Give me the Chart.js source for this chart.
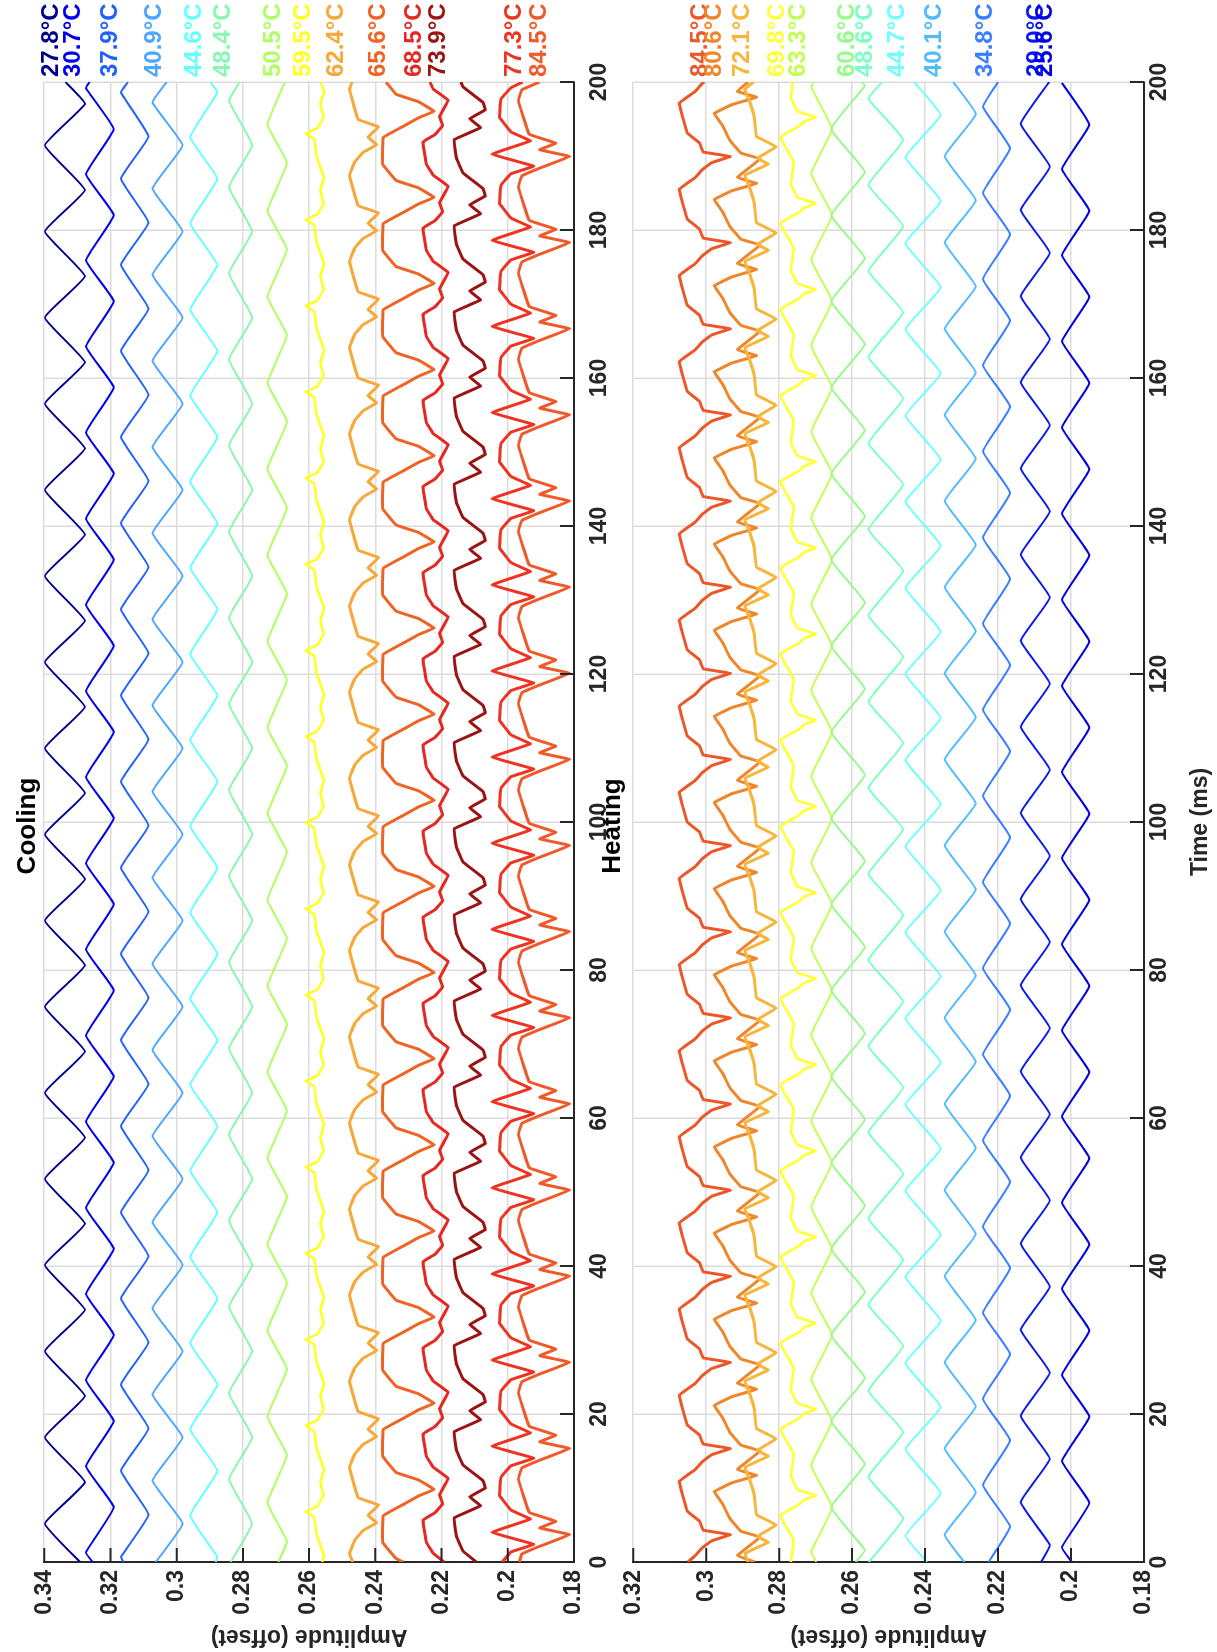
<!DOCTYPE html>
<html>
<head>
<meta charset="utf-8">
<script src="https://cdn.jsdelivr.net/npm/chart.js@4.4.1/dist/chart.umd.min.js"></script>
<style>
  html, body { margin: 0; padding: 0; background: #fff; overflow: hidden; }
  #page { position: absolute; left: 0; top: 0; width: 1652px; height: 1217px;
          transform-origin: 0 0; transform: translate(0, 1652px) rotate(-90deg); }
  #cooling { position: absolute; left: 0; top: 0; }
  #heating { position: absolute; left: 0; top: 560px; }
</style>
</head>
<body>
<div id="page">
  <canvas id="cooling" width="1652" height="640"></canvas>
  <canvas id="heating" width="1652" height="657"></canvas>
</div>
<script>
// axes
const timeTicks = [0, 20, 40, 60, 80, 100, 120, 140, 160, 180, 200];
const timeLabels = ['0', '20', '40', '60', '80', '100', '120', '140', '160', '180', '200'];
const coolTicks = [0.18, 0.2, 0.22, 0.24, 0.26, 0.28, 0.3, 0.32, 0.34];
const coolTickLabels = ['0.18', '0.2', '0.22', '0.24', '0.26', '0.28', '0.3', '0.32', '0.34'];
const heatTicks = [0.18, 0.2, 0.22, 0.24, 0.26, 0.28, 0.3, 0.32];
const heatTickLabels = ['0.18', '0.2', '0.22', '0.24', '0.26', '0.28', '0.3', '0.32'];

// cooling traces, [time ms, amplitude]
const cool278 = [[0,.3292],[5.2,.3398],[10.8,.3277],[16.84,.3398],[22.44,.3277],[28.48,.3398],[34.08,.3277],[40.12,.3398],[45.72,.3277],[51.76,.3398],[57.36,.3277],[63.4,.3398],[69,.3277],[75.04,.3398],[80.64,.3277],[86.68,.3398],[92.28,.3277],[98.32,.3398],[103.92,.3277],[109.96,.3398],[115.56,.3277],[121.6,.3398],[127.2,.3277],[133.24,.3398],[138.84,.3277],[144.88,.3398],[150.48,.3277],[156.52,.3398],[162.12,.3277],[168.16,.3398],[173.76,.3277],[179.8,.3398],[185.4,.3277],[191.44,.3398],[197.04,.3277],[200,.3336]];
const cool307 = [[0,.3254],[1.3,.3274],[7.4,.3190],[12.94,.3274],[19.04,.3190],[24.58,.3274],[30.68,.3190],[36.22,.3274],[42.32,.3190],[47.86,.3274],[53.96,.3190],[59.5,.3274],[65.6,.3190],[71.14,.3274],[77.24,.3190],[82.78,.3274],[88.88,.3190],[94.42,.3274],[100.52,.3190],[106.06,.3274],[112.16,.3190],[117.7,.3274],[123.8,.3190],[129.34,.3274],[135.44,.3190],[140.98,.3274],[147.08,.3190],[152.62,.3274],[158.72,.3190],[164.26,.3274],[170.36,.3190],[175.9,.3274],[182,.3190],[187.54,.3274],[193.64,.3190],[199.18,.3274],[200,.3263]];
const cool379 = [[0,.3160],[0.7,.3168],[6.4,.3085],[12.34,.3168],[18.04,.3085],[23.98,.3168],[29.68,.3085],[35.62,.3168],[41.32,.3085],[47.26,.3168],[52.96,.3085],[58.9,.3168],[64.6,.3085],[70.54,.3168],[76.24,.3085],[82.18,.3168],[87.88,.3085],[93.82,.3168],[99.52,.3085],[105.46,.3168],[111.16,.3085],[117.1,.3168],[122.8,.3085],[128.74,.3168],[134.44,.3085],[140.38,.3168],[146.08,.3085],[152.02,.3168],[157.72,.3085],[163.66,.3168],[169.36,.3085],[175.3,.3168],[181,.3085],[186.94,.3168],[192.64,.3085],[198.58,.3168],[200,.3147]];
const cool409 = [[0,.3063],[5.2,.2982],[11,.3073],[16.84,.2982],[22.64,.3073],[28.48,.2982],[34.28,.3073],[40.12,.2982],[45.92,.3073],[51.76,.2982],[57.56,.3073],[63.4,.2982],[69.2,.3073],[75.04,.2982],[80.84,.3073],[86.68,.2982],[92.48,.3073],[98.32,.2982],[104.12,.3073],[109.96,.2982],[115.76,.3073],[121.6,.2982],[127.4,.3073],[133.24,.2982],[139.04,.3073],[144.88,.2982],[150.68,.3073],[156.52,.2982],[162.32,.3073],[168.16,.2982],[173.96,.3073],[179.8,.2982],[185.6,.3073],[191.44,.2982],[197.24,.3073],[200,.3030]];
const cool446 = [[0,.2882],[0.7,.2877],[6.3,.2959],[12.34,.2877],[17.94,.2959],[23.98,.2877],[29.58,.2959],[35.62,.2877],[41.22,.2959],[47.26,.2877],[52.86,.2959],[58.9,.2877],[64.5,.2959],[70.54,.2877],[76.14,.2959],[82.18,.2877],[87.78,.2959],[93.82,.2877],[99.42,.2959],[105.46,.2877],[111.06,.2959],[117.1,.2877],[122.7,.2959],[128.74,.2877],[134.34,.2959],[140.38,.2877],[145.98,.2959],[152.02,.2877],[157.62,.2959],[163.66,.2877],[169.26,.2959],[175.3,.2877],[180.9,.2959],[186.94,.2877],[192.54,.2959],[198.58,.2877],[200,.2898]];
const cool484 = [[0,.2837],[5.2,.2772],[11.2,.2842],[16.84,.2772],[22.84,.2842],[28.48,.2772],[34.48,.2842],[40.12,.2772],[46.12,.2842],[51.76,.2772],[57.76,.2842],[63.4,.2772],[69.4,.2842],[75.04,.2772],[81.04,.2842],[86.68,.2772],[92.68,.2842],[98.32,.2772],[104.32,.2842],[109.96,.2772],[115.96,.2842],[121.6,.2772],[127.6,.2842],[133.24,.2772],[139.24,.2842],[144.88,.2772],[150.88,.2842],[156.52,.2772],[162.52,.2842],[168.16,.2772],[174.16,.2842],[179.8,.2772],[185.8,.2842],[191.44,.2772],[197.44,.2842],[200,.2810]];
const cool505 = [[0,.2693],[2.8,.2667],[8,.2726],[14.44,.2667],[19.64,.2726],[26.08,.2667],[31.28,.2726],[37.72,.2667],[42.92,.2726],[49.36,.2667],[54.56,.2726],[61,.2667],[66.2,.2726],[72.64,.2667],[77.84,.2726],[84.28,.2667],[89.48,.2726],[95.92,.2667],[101.12,.2726],[107.56,.2667],[112.76,.2726],[119.2,.2667],[124.4,.2726],[130.84,.2667],[136.04,.2726],[142.48,.2667],[147.68,.2726],[154.12,.2667],[159.32,.2726],[165.76,.2667],[170.96,.2726],[177.4,.2667],[182.6,.2726],[189.04,.2667],[194.24,.2726],[200,.2673]];
const cool595 = [[0,.2561],[0.86,.2555],[3.66,.2577],[6.06,.2585],
  [6.8,.2610],[7.5,.2576],[9,.2556],[10.8,.2566],[12.5,.2555],[15.3,.2577],[17.7,.2585],
  [18.44,.2610],[19.14,.2576],[20.64,.2556],[22.44,.2566],[24.14,.2555],[26.94,.2577],[29.34,.2585],
  [30.08,.2610],[30.78,.2576],[32.28,.2556],[34.08,.2566],[35.78,.2555],[38.58,.2577],[40.98,.2585],
  [41.72,.2610],[42.42,.2576],[43.92,.2556],[45.72,.2566],[47.42,.2555],[50.22,.2577],[52.62,.2585],
  [53.36,.2610],[54.06,.2576],[55.56,.2556],[57.36,.2566],[59.06,.2555],[61.86,.2577],[64.26,.2585],
  [65,.2610],[65.7,.2576],[67.2,.2556],[69,.2566],[70.7,.2555],[73.5,.2577],[75.9,.2585],
  [76.64,.2610],[77.34,.2576],[78.84,.2556],[80.64,.2566],[82.34,.2555],[85.14,.2577],[87.54,.2585],
  [88.28,.2610],[88.98,.2576],[90.48,.2556],[92.28,.2566],[93.98,.2555],[96.78,.2577],[99.18,.2585],
  [99.92,.2610],[100.62,.2576],[102.12,.2556],[103.92,.2566],[105.62,.2555],[108.42,.2577],[110.82,.2585],
  [111.56,.2610],[112.26,.2576],[113.76,.2556],[115.56,.2566],[117.26,.2555],[120.06,.2577],[122.46,.2585],
  [123.2,.2610],[123.9,.2576],[125.4,.2556],[127.2,.2566],[128.9,.2555],[131.7,.2577],[134.1,.2585],
  [134.84,.2610],[135.54,.2576],[137.04,.2556],[138.84,.2566],[140.54,.2555],[143.34,.2577],[145.74,.2585],
  [146.48,.2610],[147.18,.2576],[148.68,.2556],[150.48,.2566],[152.18,.2555],[154.98,.2577],[157.38,.2585],
  [158.12,.2610],[158.82,.2576],[160.32,.2556],[162.12,.2566],[163.82,.2555],[166.62,.2577],[169.02,.2585],
  [169.76,.2610],[170.46,.2576],[171.96,.2556],[173.76,.2566],[175.46,.2555],[178.26,.2577],[180.66,.2585],
  [181.4,.2610],[182.1,.2576],[183.6,.2556],[185.4,.2566],[187.1,.2555],[189.9,.2577],[192.3,.2585],
  [193.04,.2610],[193.74,.2576],[195.24,.2556],[197.04,.2566],[198.74,.2555],[200,.2565]];
const cool624 = [[0,.2468],[1.16,.2478],[2.96,.2462],[4.26,.2437],
  [5.3,.2396],[6.3,.2422],[7.7,.2390],[8.7,.2452],[12.8,.2478],[14.6,.2462],[15.9,.2437],
  [16.94,.2396],[17.94,.2422],[19.34,.2390],[20.34,.2452],[24.44,.2478],[26.24,.2462],[27.54,.2437],
  [28.58,.2396],[29.58,.2422],[30.98,.2390],[31.98,.2452],[36.08,.2478],[37.88,.2462],[39.18,.2437],
  [40.22,.2396],[41.22,.2422],[42.62,.2390],[43.62,.2452],[47.72,.2478],[49.52,.2462],[50.82,.2437],
  [51.86,.2396],[52.86,.2422],[54.26,.2390],[55.26,.2452],[59.36,.2478],[61.16,.2462],[62.46,.2437],
  [63.5,.2396],[64.5,.2422],[65.9,.2390],[66.9,.2452],[71,.2478],[72.8,.2462],[74.1,.2437],
  [75.14,.2396],[76.14,.2422],[77.54,.2390],[78.54,.2452],[82.64,.2478],[84.44,.2462],[85.74,.2437],
  [86.78,.2396],[87.78,.2422],[89.18,.2390],[90.18,.2452],[94.28,.2478],[96.08,.2462],[97.38,.2437],
  [98.42,.2396],[99.42,.2422],[100.82,.2390],[101.82,.2452],[105.92,.2478],[107.72,.2462],[109.02,.2437],
  [110.06,.2396],[111.06,.2422],[112.46,.2390],[113.46,.2452],[117.56,.2478],[119.36,.2462],[120.66,.2437],
  [121.7,.2396],[122.7,.2422],[124.1,.2390],[125.1,.2452],[129.2,.2478],[131,.2462],[132.3,.2437],
  [133.34,.2396],[134.34,.2422],[135.74,.2390],[136.74,.2452],[140.84,.2478],[142.64,.2462],[143.94,.2437],
  [144.98,.2396],[145.98,.2422],[147.38,.2390],[148.38,.2452],[152.48,.2478],[154.28,.2462],[155.58,.2437],
  [156.62,.2396],[157.62,.2422],[159.02,.2390],[160.02,.2452],[164.12,.2478],[165.92,.2462],[167.22,.2437],
  [168.26,.2396],[169.26,.2422],[170.66,.2390],[171.66,.2452],[175.76,.2478],[177.56,.2462],[178.86,.2437],
  [179.9,.2396],[180.9,.2422],[182.3,.2390],[183.3,.2452],[187.4,.2478],[189.2,.2462],[190.5,.2437],
  [191.54,.2396],[192.54,.2422],[193.94,.2390],[194.94,.2452],[199.04,.2478],[200,.2470]];
const cool656 = [[0,.2316],[0.46,.2337],[2.66,.2378],[6.26,.2376],[7.96,.2308],[8.96,.2268],
  [9.8,.2222],[11.1,.2270],[12.1,.2337],[14.3,.2378],[17.9,.2376],[19.6,.2308],[20.6,.2268],
  [21.44,.2222],[22.74,.2270],[23.74,.2337],[25.94,.2378],[29.54,.2376],[31.24,.2308],[32.24,.2268],
  [33.08,.2222],[34.38,.2270],[35.38,.2337],[37.58,.2378],[41.18,.2376],[42.88,.2308],[43.88,.2268],
  [44.72,.2222],[46.02,.2270],[47.02,.2337],[49.22,.2378],[52.82,.2376],[54.52,.2308],[55.52,.2268],
  [56.36,.2222],[57.66,.2270],[58.66,.2337],[60.86,.2378],[64.46,.2376],[66.16,.2308],[67.16,.2268],
  [68,.2222],[69.3,.2270],[70.3,.2337],[72.5,.2378],[76.1,.2376],[77.8,.2308],[78.8,.2268],
  [79.64,.2222],[80.94,.2270],[81.94,.2337],[84.14,.2378],[87.74,.2376],[89.44,.2308],[90.44,.2268],
  [91.28,.2222],[92.58,.2270],[93.58,.2337],[95.78,.2378],[99.38,.2376],[101.08,.2308],[102.08,.2268],
  [102.92,.2222],[104.22,.2270],[105.22,.2337],[107.42,.2378],[111.02,.2376],[112.72,.2308],[113.72,.2268],
  [114.56,.2222],[115.86,.2270],[116.86,.2337],[119.06,.2378],[122.66,.2376],[124.36,.2308],[125.36,.2268],
  [126.2,.2222],[127.5,.2270],[128.5,.2337],[130.7,.2378],[134.3,.2376],[136,.2308],[137,.2268],
  [137.84,.2222],[139.14,.2270],[140.14,.2337],[142.34,.2378],[145.94,.2376],[147.64,.2308],[148.64,.2268],
  [149.48,.2222],[150.78,.2270],[151.78,.2337],[153.98,.2378],[157.58,.2376],[159.28,.2308],[160.28,.2268],
  [161.12,.2222],[162.42,.2270],[163.42,.2337],[165.62,.2378],[169.22,.2376],[170.92,.2308],[171.92,.2268],
  [172.76,.2222],[174.06,.2270],[175.06,.2337],[177.26,.2378],[180.86,.2376],[182.56,.2308],[183.56,.2268],
  [184.4,.2222],[185.7,.2270],[186.7,.2337],[188.9,.2378],[192.5,.2376],[194.2,.2308],[195.2,.2268],
  [196.04,.2222],[197.34,.2270],[198.34,.2337],[200,.2368]];
const cool685 = [[0,.2192],[1.16,.2225],[2.66,.2246],[5.66,.2256],[6.66,.2220],[7.86,.2197],[9.06,.2206],
  [11.3,.2180],[12.8,.2225],[14.3,.2246],[17.3,.2256],[18.3,.2220],[19.5,.2197],[20.7,.2206],
  [22.94,.2180],[24.44,.2225],[25.94,.2246],[28.94,.2256],[29.94,.2220],[31.14,.2197],[32.34,.2206],
  [34.58,.2180],[36.08,.2225],[37.58,.2246],[40.58,.2256],[41.58,.2220],[42.78,.2197],[43.98,.2206],
  [46.22,.2180],[47.72,.2225],[49.22,.2246],[52.22,.2256],[53.22,.2220],[54.42,.2197],[55.62,.2206],
  [57.86,.2180],[59.36,.2225],[60.86,.2246],[63.86,.2256],[64.86,.2220],[66.06,.2197],[67.26,.2206],
  [69.5,.2180],[71,.2225],[72.5,.2246],[75.5,.2256],[76.5,.2220],[77.7,.2197],[78.9,.2206],
  [81.14,.2180],[82.64,.2225],[84.14,.2246],[87.14,.2256],[88.14,.2220],[89.34,.2197],[90.54,.2206],
  [92.78,.2180],[94.28,.2225],[95.78,.2246],[98.78,.2256],[99.78,.2220],[100.98,.2197],[102.18,.2206],
  [104.42,.2180],[105.92,.2225],[107.42,.2246],[110.42,.2256],[111.42,.2220],[112.62,.2197],[113.82,.2206],
  [116.06,.2180],[117.56,.2225],[119.06,.2246],[122.06,.2256],[123.06,.2220],[124.26,.2197],[125.46,.2206],
  [127.7,.2180],[129.2,.2225],[130.7,.2246],[133.7,.2256],[134.7,.2220],[135.9,.2197],[137.1,.2206],
  [139.34,.2180],[140.84,.2225],[142.34,.2246],[145.34,.2256],[146.34,.2220],[147.54,.2197],[148.74,.2206],
  [150.98,.2180],[152.48,.2225],[153.98,.2246],[156.98,.2256],[157.98,.2220],[159.18,.2197],[160.38,.2206],
  [162.62,.2180],[164.12,.2225],[165.62,.2246],[168.62,.2256],[169.62,.2220],[170.82,.2197],[172.02,.2206],
  [174.26,.2180],[175.76,.2225],[177.26,.2246],[180.26,.2256],[181.26,.2220],[182.46,.2197],[183.66,.2206],
  [185.9,.2180],[187.4,.2225],[188.9,.2246],[191.9,.2256],[192.9,.2220],[194.1,.2197],[195.3,.2206],
  [197.54,.2180],[199.04,.2225],[200,.2235]];
const cool739 = [[0,.2095],[1.46,.2135],[3.46,.2155],[5.96,.2162],
  [7.6,.2082],[8.8,.2115],[10,.2068],[11,.2075],[13.1,.2135],[15.1,.2155],[17.6,.2162],
  [19.24,.2082],[20.44,.2115],[21.64,.2068],[22.64,.2075],[24.74,.2135],[26.74,.2155],[29.24,.2162],
  [30.88,.2082],[32.08,.2115],[33.28,.2068],[34.28,.2075],[36.38,.2135],[38.38,.2155],[40.88,.2162],
  [42.52,.2082],[43.72,.2115],[44.92,.2068],[45.92,.2075],[48.02,.2135],[50.02,.2155],[52.52,.2162],
  [54.16,.2082],[55.36,.2115],[56.56,.2068],[57.56,.2075],[59.66,.2135],[61.66,.2155],[64.16,.2162],
  [65.8,.2082],[67,.2115],[68.2,.2068],[69.2,.2075],[71.3,.2135],[73.3,.2155],[75.8,.2162],
  [77.44,.2082],[78.64,.2115],[79.84,.2068],[80.84,.2075],[82.94,.2135],[84.94,.2155],[87.44,.2162],
  [89.08,.2082],[90.28,.2115],[91.48,.2068],[92.48,.2075],[94.58,.2135],[96.58,.2155],[99.08,.2162],
  [100.72,.2082],[101.92,.2115],[103.12,.2068],[104.12,.2075],[106.22,.2135],[108.22,.2155],[110.72,.2162],
  [112.36,.2082],[113.56,.2115],[114.76,.2068],[115.76,.2075],[117.86,.2135],[119.86,.2155],[122.36,.2162],
  [124,.2082],[125.2,.2115],[126.4,.2068],[127.4,.2075],[129.5,.2135],[131.5,.2155],[134,.2162],
  [135.64,.2082],[136.84,.2115],[138.04,.2068],[139.04,.2075],[141.14,.2135],[143.14,.2155],[145.64,.2162],
  [147.28,.2082],[148.48,.2115],[149.68,.2068],[150.68,.2075],[152.78,.2135],[154.78,.2155],[157.28,.2162],
  [158.92,.2082],[160.12,.2115],[161.32,.2068],[162.32,.2075],[164.42,.2135],[166.42,.2155],[168.92,.2162],
  [170.56,.2082],[171.76,.2115],[172.96,.2068],[173.96,.2075],[176.06,.2135],[178.06,.2155],[180.56,.2162],
  [182.2,.2082],[183.4,.2115],[184.6,.2068],[185.6,.2075],[187.7,.2135],[189.7,.2155],[192.2,.2162],
  [193.84,.2082],[195.04,.2115],[196.24,.2068],[197.24,.2075],[199.34,.2135],[200,.2142]];
const cool773 = [[0,.2017],[1.36,.1990],
  [2.4,.1922],[4,.2048],[5.8,.1932],[7,.1990],[9,.2025],[11.5,.2020],[13,.1990],
  [14.04,.1922],[15.64,.2048],[17.44,.1932],[18.64,.1990],[20.64,.2025],[23.14,.2020],[24.64,.1990],
  [25.68,.1922],[27.28,.2048],[29.08,.1932],[30.28,.1990],[32.28,.2025],[34.78,.2020],[36.28,.1990],
  [37.32,.1922],[38.92,.2048],[40.72,.1932],[41.92,.1990],[43.92,.2025],[46.42,.2020],[47.92,.1990],
  [48.96,.1922],[50.56,.2048],[52.36,.1932],[53.56,.1990],[55.56,.2025],[58.06,.2020],[59.56,.1990],
  [60.6,.1922],[62.2,.2048],[64,.1932],[65.2,.1990],[67.2,.2025],[69.7,.2020],[71.2,.1990],
  [72.24,.1922],[73.84,.2048],[75.64,.1932],[76.84,.1990],[78.84,.2025],[81.34,.2020],[82.84,.1990],
  [83.88,.1922],[85.48,.2048],[87.28,.1932],[88.48,.1990],[90.48,.2025],[92.98,.2020],[94.48,.1990],
  [95.52,.1922],[97.12,.2048],[98.92,.1932],[100.12,.1990],[102.12,.2025],[104.62,.2020],[106.12,.1990],
  [107.16,.1922],[108.76,.2048],[110.56,.1932],[111.76,.1990],[113.76,.2025],[116.26,.2020],[117.76,.1990],
  [118.8,.1922],[120.4,.2048],[122.2,.1932],[123.4,.1990],[125.4,.2025],[127.9,.2020],[129.4,.1990],
  [130.44,.1922],[132.04,.2048],[133.84,.1932],[135.04,.1990],[137.04,.2025],[139.54,.2020],[141.04,.1990],
  [142.08,.1922],[143.68,.2048],[145.48,.1932],[146.68,.1990],[148.68,.2025],[151.18,.2020],[152.68,.1990],
  [153.72,.1922],[155.32,.2048],[157.12,.1932],[158.32,.1990],[160.32,.2025],[162.82,.2020],[164.32,.1990],
  [165.36,.1922],[166.96,.2048],[168.76,.1932],[169.96,.1990],[171.96,.2025],[174.46,.2020],[175.96,.1990],
  [177,.1922],[178.6,.2048],[180.4,.1932],[181.6,.1990],[183.6,.2025],[186.1,.2020],[187.6,.1990],
  [188.64,.1922],[190.24,.2048],[192.04,.1932],[193.24,.1990],[195.24,.2025],[197.74,.2020],[199.24,.1990],[200,.1955]];
const cool845 = [[0,.1965],[1.06,.1958],
  [2.1,.1905],[3.7,.1813],[4.6,.1903],[5.5,.1855],[6.7,.1935],[11.2,.1968],[12.7,.1958],
  [13.74,.1905],[15.34,.1813],[16.24,.1903],[17.14,.1855],[18.34,.1935],[22.84,.1968],[24.34,.1958],
  [25.38,.1905],[26.98,.1813],[27.88,.1903],[28.78,.1855],[29.98,.1935],[34.48,.1968],[35.98,.1958],
  [37.02,.1905],[38.62,.1813],[39.52,.1903],[40.42,.1855],[41.62,.1935],[46.12,.1968],[47.62,.1958],
  [48.66,.1905],[50.26,.1813],[51.16,.1903],[52.06,.1855],[53.26,.1935],[57.76,.1968],[59.26,.1958],
  [60.3,.1905],[61.9,.1813],[62.8,.1903],[63.7,.1855],[64.9,.1935],[69.4,.1968],[70.9,.1958],
  [71.94,.1905],[73.54,.1813],[74.44,.1903],[75.34,.1855],[76.54,.1935],[81.04,.1968],[82.54,.1958],
  [83.58,.1905],[85.18,.1813],[86.08,.1903],[86.98,.1855],[88.18,.1935],[92.68,.1968],[94.18,.1958],
  [95.22,.1905],[96.82,.1813],[97.72,.1903],[98.62,.1855],[99.82,.1935],[104.32,.1968],[105.82,.1958],
  [106.86,.1905],[108.46,.1813],[109.36,.1903],[110.26,.1855],[111.46,.1935],[115.96,.1968],[117.46,.1958],
  [118.5,.1905],[120.1,.1813],[121,.1903],[121.9,.1855],[123.1,.1935],[127.6,.1968],[129.1,.1958],
  [130.14,.1905],[131.74,.1813],[132.64,.1903],[133.54,.1855],[134.74,.1935],[139.24,.1968],[140.74,.1958],
  [141.78,.1905],[143.38,.1813],[144.28,.1903],[145.18,.1855],[146.38,.1935],[150.88,.1968],[152.38,.1958],
  [153.42,.1905],[155.02,.1813],[155.92,.1903],[156.82,.1855],[158.02,.1935],[162.52,.1968],[164.02,.1958],
  [165.06,.1905],[166.66,.1813],[167.56,.1903],[168.46,.1855],[169.66,.1935],[174.16,.1968],[175.66,.1958],
  [176.7,.1905],[178.3,.1813],[179.2,.1903],[180.1,.1855],[181.3,.1935],[185.8,.1968],[187.3,.1958],
  [188.34,.1905],[189.94,.1813],[190.84,.1903],[191.74,.1855],[192.94,.1935],[197.44,.1968],[198.94,.1958],[200,.1904]];

// heating traces, [time ms, amplitude]
const heat845 = [[0,.3050],[0.86,.3030],[1.86,.3012],[2.86,.2985],
  [3.7,.2934],[4.3,.3008],[5.5,.3018],[6.9,.3052],[10.9,.3074],[12.5,.3030],[13.5,.3012],[14.5,.2985],
  [15.34,.2934],[15.94,.3008],[17.14,.3018],[18.54,.3052],[22.54,.3074],[24.14,.3030],[25.14,.3012],[26.14,.2985],
  [26.98,.2934],[27.58,.3008],[28.78,.3018],[30.18,.3052],[34.18,.3074],[35.78,.3030],[36.78,.3012],[37.78,.2985],
  [38.62,.2934],[39.22,.3008],[40.42,.3018],[41.82,.3052],[45.82,.3074],[47.42,.3030],[48.42,.3012],[49.42,.2985],
  [50.26,.2934],[50.86,.3008],[52.06,.3018],[53.46,.3052],[57.46,.3074],[59.06,.3030],[60.06,.3012],[61.06,.2985],
  [61.9,.2934],[62.5,.3008],[63.7,.3018],[65.1,.3052],[69.1,.3074],[70.7,.3030],[71.7,.3012],[72.7,.2985],
  [73.54,.2934],[74.14,.3008],[75.34,.3018],[76.74,.3052],[80.74,.3074],[82.34,.3030],[83.34,.3012],[84.34,.2985],
  [85.18,.2934],[85.78,.3008],[86.98,.3018],[88.38,.3052],[92.38,.3074],[93.98,.3030],[94.98,.3012],[95.98,.2985],
  [96.82,.2934],[97.42,.3008],[98.62,.3018],[100.02,.3052],[104.02,.3074],[105.62,.3030],[106.62,.3012],[107.62,.2985],
  [108.46,.2934],[109.06,.3008],[110.26,.3018],[111.66,.3052],[115.66,.3074],[117.26,.3030],[118.26,.3012],[119.26,.2985],
  [120.1,.2934],[120.7,.3008],[121.9,.3018],[123.3,.3052],[127.3,.3074],[128.9,.3030],[129.9,.3012],[130.9,.2985],
  [131.74,.2934],[132.34,.3008],[133.54,.3018],[134.94,.3052],[138.94,.3074],[140.54,.3030],[141.54,.3012],[142.54,.2985],
  [143.38,.2934],[143.98,.3008],[145.18,.3018],[146.58,.3052],[150.58,.3074],[152.18,.3030],[153.18,.3012],[154.18,.2985],
  [155.02,.2934],[155.62,.3008],[156.82,.3018],[158.22,.3052],[162.22,.3074],[163.82,.3030],[164.82,.3012],[165.82,.2985],
  [166.66,.2934],[167.26,.3008],[168.46,.3018],[169.86,.3052],[173.86,.3074],[175.46,.3030],[176.46,.3012],[177.46,.2985],
  [178.3,.2934],[178.9,.3008],[180.1,.3018],[181.5,.3052],[185.5,.3074],[187.1,.3030],[188.1,.3012],[189.1,.2985],
  [189.94,.2934],[190.54,.3008],[191.74,.3018],[193.14,.3052],[197.14,.3074],[198.74,.3030],[199.74,.3012],[200,.3005]];
const heat806 = [[0,.2866],[0.86,.2915],[3.36,.2852],[4.16,.2905],[5.86,.2935],[7.86,.2955],
  [9.5,.2978],[10.7,.2930],[11.7,.2862],[12.5,.2915],[15,.2852],[15.8,.2905],[17.5,.2935],[19.5,.2955],
  [21.14,.2978],[22.34,.2930],[23.34,.2862],[24.14,.2915],[26.64,.2852],[27.44,.2905],[29.14,.2935],[31.14,.2955],
  [32.78,.2978],[33.98,.2930],[34.98,.2862],[35.78,.2915],[38.28,.2852],[39.08,.2905],[40.78,.2935],[42.78,.2955],
  [44.42,.2978],[45.62,.2930],[46.62,.2862],[47.42,.2915],[49.92,.2852],[50.72,.2905],[52.42,.2935],[54.42,.2955],
  [56.06,.2978],[57.26,.2930],[58.26,.2862],[59.06,.2915],[61.56,.2852],[62.36,.2905],[64.06,.2935],[66.06,.2955],
  [67.7,.2978],[68.9,.2930],[69.9,.2862],[70.7,.2915],[73.2,.2852],[74,.2905],[75.7,.2935],[77.7,.2955],
  [79.34,.2978],[80.54,.2930],[81.54,.2862],[82.34,.2915],[84.84,.2852],[85.64,.2905],[87.34,.2935],[89.34,.2955],
  [90.98,.2978],[92.18,.2930],[93.18,.2862],[93.98,.2915],[96.48,.2852],[97.28,.2905],[98.98,.2935],[100.98,.2955],
  [102.62,.2978],[103.82,.2930],[104.82,.2862],[105.62,.2915],[108.12,.2852],[108.92,.2905],[110.62,.2935],[112.62,.2955],
  [114.26,.2978],[115.46,.2930],[116.46,.2862],[117.26,.2915],[119.76,.2852],[120.56,.2905],[122.26,.2935],[124.26,.2955],
  [125.9,.2978],[127.1,.2930],[128.1,.2862],[128.9,.2915],[131.4,.2852],[132.2,.2905],[133.9,.2935],[135.9,.2955],
  [137.54,.2978],[138.74,.2930],[139.74,.2862],[140.54,.2915],[143.04,.2852],[143.84,.2905],[145.54,.2935],[147.54,.2955],
  [149.18,.2978],[150.38,.2930],[151.38,.2862],[152.18,.2915],[154.68,.2852],[155.48,.2905],[157.18,.2935],[159.18,.2955],
  [160.82,.2978],[162.02,.2930],[163.02,.2862],[163.82,.2915],[166.32,.2852],[167.12,.2905],[168.82,.2935],[170.82,.2955],
  [172.46,.2978],[173.66,.2930],[174.66,.2862],[175.46,.2915],[177.96,.2852],[178.76,.2905],[180.46,.2935],[182.46,.2955],
  [184.1,.2978],[185.3,.2930],[186.3,.2862],[187.1,.2915],[189.6,.2852],[190.4,.2905],[192.1,.2935],[194.1,.2955],
  [195.74,.2978],[196.94,.2930],[197.94,.2862],[198.74,.2915],[200,.2885]];
const heat721 = [[0,.2885],[1.16,.2894],[2.66,.2830],[3.46,.2860],
  [5,.2808],[6.4,.2862],[9,.2868],[11,.2880],[12.8,.2894],[14.3,.2830],[15.1,.2860],
  [16.64,.2808],[18.04,.2862],[20.64,.2868],[22.64,.2880],[24.44,.2894],[25.94,.2830],[26.74,.2860],
  [28.28,.2808],[29.68,.2862],[32.28,.2868],[34.28,.2880],[36.08,.2894],[37.58,.2830],[38.38,.2860],
  [39.92,.2808],[41.32,.2862],[43.92,.2868],[45.92,.2880],[47.72,.2894],[49.22,.2830],[50.02,.2860],
  [51.56,.2808],[52.96,.2862],[55.56,.2868],[57.56,.2880],[59.36,.2894],[60.86,.2830],[61.66,.2860],
  [63.2,.2808],[64.6,.2862],[67.2,.2868],[69.2,.2880],[71,.2894],[72.5,.2830],[73.3,.2860],
  [74.84,.2808],[76.24,.2862],[78.84,.2868],[80.84,.2880],[82.64,.2894],[84.14,.2830],[84.94,.2860],
  [86.48,.2808],[87.88,.2862],[90.48,.2868],[92.48,.2880],[94.28,.2894],[95.78,.2830],[96.58,.2860],
  [98.12,.2808],[99.52,.2862],[102.12,.2868],[104.12,.2880],[105.92,.2894],[107.42,.2830],[108.22,.2860],
  [109.76,.2808],[111.16,.2862],[113.76,.2868],[115.76,.2880],[117.56,.2894],[119.06,.2830],[119.86,.2860],
  [121.4,.2808],[122.8,.2862],[125.4,.2868],[127.4,.2880],[129.2,.2894],[130.7,.2830],[131.5,.2860],
  [133.04,.2808],[134.44,.2862],[137.04,.2868],[139.04,.2880],[140.84,.2894],[142.34,.2830],[143.14,.2860],
  [144.68,.2808],[146.08,.2862],[148.68,.2868],[150.68,.2880],[152.48,.2894],[153.98,.2830],[154.78,.2860],
  [156.32,.2808],[157.72,.2862],[160.32,.2868],[162.32,.2880],[164.12,.2894],[165.62,.2830],[166.42,.2860],
  [167.96,.2808],[169.36,.2862],[171.96,.2868],[173.96,.2880],[175.76,.2894],[177.26,.2830],[178.06,.2860],
  [179.6,.2808],[181,.2862],[183.6,.2868],[185.6,.2880],[187.4,.2894],[188.9,.2830],[189.7,.2860],
  [191.24,.2808],[192.64,.2862],[195.24,.2868],[197.24,.2880],[199.04,.2894],[200,.2870]];
const heat698 = [[0,.2768],[2.96,.2760],
  [6.3,.2797],[7.8,.2745],[8.4,.2732],[9,.2700],[9.8,.2750],[11.6,.2768],[14.6,.2760],
  [17.94,.2797],[19.44,.2745],[20.04,.2732],[20.64,.2700],[21.44,.2750],[23.24,.2768],[26.24,.2760],
  [29.58,.2797],[31.08,.2745],[31.68,.2732],[32.28,.2700],[33.08,.2750],[34.88,.2768],[37.88,.2760],
  [41.22,.2797],[42.72,.2745],[43.32,.2732],[43.92,.2700],[44.72,.2750],[46.52,.2768],[49.52,.2760],
  [52.86,.2797],[54.36,.2745],[54.96,.2732],[55.56,.2700],[56.36,.2750],[58.16,.2768],[61.16,.2760],
  [64.5,.2797],[66,.2745],[66.6,.2732],[67.2,.2700],[68,.2750],[69.8,.2768],[72.8,.2760],
  [76.14,.2797],[77.64,.2745],[78.24,.2732],[78.84,.2700],[79.64,.2750],[81.44,.2768],[84.44,.2760],
  [87.78,.2797],[89.28,.2745],[89.88,.2732],[90.48,.2700],[91.28,.2750],[93.08,.2768],[96.08,.2760],
  [99.42,.2797],[100.92,.2745],[101.52,.2732],[102.12,.2700],[102.92,.2750],[104.72,.2768],[107.72,.2760],
  [111.06,.2797],[112.56,.2745],[113.16,.2732],[113.76,.2700],[114.56,.2750],[116.36,.2768],[119.36,.2760],
  [122.7,.2797],[124.2,.2745],[124.8,.2732],[125.4,.2700],[126.2,.2750],[128,.2768],[131,.2760],
  [134.34,.2797],[135.84,.2745],[136.44,.2732],[137.04,.2700],[137.84,.2750],[139.64,.2768],[142.64,.2760],
  [145.98,.2797],[147.48,.2745],[148.08,.2732],[148.68,.2700],[149.48,.2750],[151.28,.2768],[154.28,.2760],
  [157.62,.2797],[159.12,.2745],[159.72,.2732],[160.32,.2700],[161.12,.2750],[162.92,.2768],[165.92,.2760],
  [169.26,.2797],[170.76,.2745],[171.36,.2732],[171.96,.2700],[172.76,.2750],[174.56,.2768],[177.56,.2760],
  [180.9,.2797],[182.4,.2745],[183,.2732],[183.6,.2700],[184.4,.2750],[186.2,.2768],[189.2,.2760],
  [192.54,.2797],[194.04,.2745],[194.64,.2732],[195.24,.2700],[196.04,.2750],[197.84,.2768],[200,.2763]];
const heat633 = [[0,.2698],[1.4,.2712],[7.4,.2655],[13.04,.2712],[19.04,.2655],[24.68,.2712],[30.68,.2655],[36.32,.2712],[42.32,.2655],[47.96,.2712],[53.96,.2655],[59.6,.2712],[65.6,.2655],[71.24,.2712],[77.24,.2655],[82.88,.2712],[88.88,.2655],[94.52,.2712],[100.52,.2655],[106.16,.2712],[112.16,.2655],[117.8,.2712],[123.8,.2655],[129.44,.2712],[135.44,.2655],[141.08,.2712],[147.08,.2655],[152.72,.2712],[158.72,.2655],[164.36,.2712],[170.36,.2655],[176,.2712],[182,.2655],[187.64,.2712],[193.64,.2655],[199.28,.2712],[200,.2705]];
const heat606 = [[0,.2590],[1.6,.2565],[7.4,.2657],[13.24,.2565],[19.04,.2657],[24.88,.2565],[30.68,.2657],[36.52,.2565],[42.32,.2657],[48.16,.2565],[53.96,.2657],[59.8,.2565],[65.6,.2657],[71.44,.2565],[77.24,.2657],[83.08,.2565],[88.88,.2657],[94.72,.2565],[100.52,.2657],[106.36,.2565],[112.16,.2657],[118,.2565],[123.8,.2657],[129.64,.2565],[135.44,.2657],[141.28,.2565],[147.08,.2657],[152.92,.2565],[158.72,.2657],[164.56,.2565],[170.36,.2657],[176.2,.2565],[182,.2657],[187.84,.2565],[193.64,.2657],[199.48,.2565],[200,.2573]];
const heat486 = [[0,.2554],[5.9,.2460],[11.5,.2555],[17.54,.2460],[23.14,.2555],[29.18,.2460],[34.78,.2555],[40.82,.2460],[46.42,.2555],[52.46,.2460],[58.06,.2555],[64.1,.2460],[69.7,.2555],[75.74,.2460],[81.34,.2555],[87.38,.2460],[92.98,.2555],[99.02,.2460],[104.62,.2555],[110.66,.2460],[116.26,.2555],[122.3,.2460],[127.9,.2555],[133.94,.2460],[139.54,.2555],[145.58,.2460],[151.18,.2555],[157.22,.2460],[162.82,.2555],[168.86,.2460],[174.46,.2555],[180.5,.2460],[186.1,.2555],[192.14,.2460],[197.74,.2555],[200,.2518]];
const heat447 = [[0,.2395],[3.6,.2454],[9.3,.2357],[15.24,.2454],[20.94,.2357],[26.88,.2454],[32.58,.2357],[38.52,.2454],[44.22,.2357],[50.16,.2454],[55.86,.2357],[61.8,.2454],[67.5,.2357],[73.44,.2454],[79.14,.2357],[85.08,.2454],[90.78,.2357],[96.72,.2454],[102.42,.2357],[108.36,.2454],[114.06,.2357],[120,.2454],[125.7,.2357],[131.64,.2454],[137.34,.2357],[143.28,.2454],[148.98,.2357],[154.92,.2454],[160.62,.2357],[166.56,.2454],[172.26,.2357],[178.2,.2454],[183.9,.2357],[189.84,.2454],[195.54,.2357],[200,.2430]];
const heat401 = [[0,.2293],[3.7,.2346],[9.4,.2261],[15.34,.2346],[21.04,.2261],[26.98,.2346],[32.68,.2261],[38.62,.2346],[44.32,.2261],[50.26,.2346],[55.96,.2261],[61.9,.2346],[67.6,.2261],[73.54,.2346],[79.24,.2261],[85.18,.2346],[90.88,.2261],[96.82,.2346],[102.52,.2261],[108.46,.2346],[114.16,.2261],[120.1,.2346],[125.8,.2261],[131.74,.2346],[137.44,.2261],[143.38,.2346],[149.08,.2261],[155.02,.2346],[160.72,.2261],[166.66,.2346],[172.36,.2261],[178.3,.2346],[184,.2261],[189.94,.2346],[195.64,.2261],[200,.2323]];
const heat348 = [[0,.2226],[4.8,.2167],[10.4,.2241],[16.44,.2167],[22.04,.2241],[28.08,.2167],[33.68,.2241],[39.72,.2167],[45.32,.2241],[51.36,.2167],[56.96,.2241],[63,.2167],[68.6,.2241],[74.64,.2167],[80.24,.2241],[86.28,.2167],[91.88,.2241],[97.92,.2167],[103.52,.2241],[109.56,.2167],[115.16,.2241],[121.2,.2167],[126.8,.2241],[132.84,.2167],[138.44,.2241],[144.48,.2167],[150.08,.2241],[156.12,.2167],[161.72,.2241],[167.76,.2167],[173.36,.2241],[179.4,.2167],[185,.2241],[191.04,.2167],[196.64,.2241],[200,.2200]];
const heat290 = [[0,.2082],[2.3,.2058],[8.1,.2138],[13.94,.2058],[19.74,.2138],[25.58,.2058],[31.38,.2138],[37.22,.2058],[43.02,.2138],[48.86,.2058],[54.66,.2138],[60.5,.2058],[66.3,.2138],[72.14,.2058],[77.94,.2138],[83.78,.2058],[89.58,.2138],[95.42,.2058],[101.22,.2138],[107.06,.2058],[112.86,.2138],[118.7,.2058],[124.5,.2138],[130.34,.2058],[136.14,.2138],[141.98,.2058],[147.78,.2138],[153.62,.2058],[159.42,.2138],[165.26,.2058],[171.06,.2138],[176.9,.2058],[182.7,.2138],[188.54,.2058],[194.34,.2138],[200,.2060]];
const heat256 = [[0,.1998],[2,.2025],[8,.1950],[13.64,.2025],[19.64,.1950],[25.28,.2025],[31.28,.1950],[36.92,.2025],[42.92,.1950],[48.56,.2025],[54.56,.1950],[60.2,.2025],[66.2,.1950],[71.84,.2025],[77.84,.1950],[83.48,.2025],[89.48,.1950],[95.12,.2025],[101.12,.1950],[106.76,.2025],[112.76,.1950],[118.4,.2025],[124.4,.1950],[130.04,.2025],[136.04,.1950],[141.68,.2025],[147.68,.1950],[153.32,.2025],[159.32,.1950],[164.96,.2025],[170.96,.1950],[176.6,.2025],[182.6,.1950],[188.24,.2025],[194.24,.1950],[199.88,.2025]];

// trace names and where their names sit on the amplitude axis
const coolNames = ['27.8°C', '30.7°C', '37.9°C', '40.9°C', '44.6°C', '48.4°C', '50.5°C', '59.5°C', '62.4°C', '65.6°C', '68.5°C', '73.9°C', '77.3°C', '84.5°C'];
const coolLabelY = [0.3377, 0.3312, 0.3201, 0.3067, 0.2945, 0.2859, 0.2709, 0.2618, 0.2518, 0.2390, 0.2281, 0.2209, 0.1981, 0.1905];
const heatNames = ['84.5°C', '80.6°C', '72.1°C', '69.8°C', '63.3°C', '60.6°C', '48.6°C', '44.7°C', '40.1°C', '34.8°C', '29.0°C', '25.6°C'];
const heatLabelY = [0.3017, 0.2977, 0.2902, 0.2805, 0.2746, 0.2612, 0.2563, 0.2477, 0.2375, 0.2236, 0.2096, 0.2069];

const coolSeries = [cool278, cool307, cool379, cool409, cool446, cool484, cool505, cool595, cool624, cool656, cool685, cool739, cool773, cool845];
const heatSeries = [heat845, heat806, heat721, heat698, heat633, heat606, heat486, heat447, heat401, heat348, heat290, heat256];

// styles
const coolColors = ['#00008f', '#0000ee', '#2060ff', '#4da6ff', '#66ffff', '#88f8b0', '#b0ff60', '#ffff22', '#f7a838', '#ef6424', '#e52822', '#9b1414', '#ee3322', '#f05a2a'];
const coolWidths = [2, 2, 2, 2, 2, 2, 2, 2.6, 3, 3, 3, 3, 3, 3];
const heatColors = ['#ec5628', '#f0862c', '#f8b53a', '#ffff3c', '#c2ff52', '#96fb8a', '#7affc4', '#6effff', '#52bbff', '#3a7fff', '#0a18f0', '#0000e0'];
const heatWidths = [3, 3, 3, 2.8, 2, 2, 2, 2, 2, 2, 2, 2];

const FONT = "'Liberation Sans', Arial, Helvetica, sans-serif";
Chart.defaults.font.family = FONT;
Chart.defaults.color = '#262626';

function toDatasets(series, colors, widths) {
  return series.map((pts, i) => ({
    data: pts.map(p => ({ x: p[0], y: p[1] })),
    borderColor: colors[i],
    borderWidth: widths[i],
    pointRadius: 0,
    tension: widths[i] <= 2 ? 0.1 : 0.05,
    fill: false,
    order: -i
  }));
}

// MATLAB-like inward ticks plus the temperature labels at the right end
function decorPlugin(names, labelY, colors) {
  return {
    id: 'decor',
    afterDatasetsDraw(chart) {
      const { ctx, chartArea: a, scales: { x, y } } = chart;
      ctx.save();
      ctx.strokeStyle = '#262626';
      ctx.lineWidth = 2;
      ctx.beginPath();
      x.ticks.forEach(t => {
        const px = x.getPixelForValue(t.value);
        ctx.moveTo(px, a.bottom); ctx.lineTo(px, a.bottom - 14);
      });
      y.ticks.forEach(t => {
        const py = y.getPixelForValue(t.value);
        ctx.moveTo(a.left, py); ctx.lineTo(a.left + 14, py);
      });
      ctx.stroke();
      ctx.font = 'bold 24px ' + FONT;
      ctx.textAlign = 'left';
      ctx.textBaseline = 'middle';
      names.forEach((n, i) => {
        ctx.fillStyle = colors[i];
        ctx.fillText(n, a.right + 5, y.getPixelForValue(labelY[i]));
      });
      ctx.restore();
    }
  };
}

function makeChart(id, cfg) {
  const tickFont = { size: 23, weight: 'bold' };
  const grid = { color: '#dcdcdc', lineWidth: 1.5, drawTicks: false };
  const border = { display: true, color: '#262626', width: 2 };
  return new Chart(document.getElementById(id), {
    type: 'line',
    data: { datasets: toDatasets(cfg.series, cfg.colors, cfg.widths) },
    options: {
      responsive: false,
      animation: false,
      devicePixelRatio: 1,
      layout: { padding: 0 },
      plugins: {
        legend: { display: false },
        tooltip: { enabled: false },
        title: { display: true, text: cfg.title, color: '#000', font: { size: 26, weight: 'bold' }, padding: cfg.titlePad }
      },
      scales: {
        x: {
          type: 'linear', min: 0, max: 200,
          afterBuildTicks: s => { s.ticks = timeTicks.map(v => ({ value: v })); },
          afterFit: s => { s.height = cfg.xHeight; },
          ticks: { callback: (v, i) => timeLabels[i], font: tickFont, color: '#262626', padding: cfg.xPad, maxRotation: 0, autoSkip: false },
          grid: grid, border: border,
          title: cfg.xTitle
            ? { display: true, text: cfg.xTitle, color: '#262626', font: tickFont, padding: { top: 0, bottom: 3 } }
            : { display: false }
        },
        y: {
          type: 'linear', min: cfg.yTicks[0], max: cfg.yTicks[cfg.yTicks.length - 1],
          afterBuildTicks: s => { s.ticks = cfg.yTicks.map(v => ({ value: v })); },
          afterFit: s => { s.width = 90; },
          ticks: { callback: (v, i) => cfg.yLabels[i], font: tickFont, color: '#262626', padding: 8, autoSkip: false },
          grid: grid, border: border,
          title: { display: true, text: 'Amplitude (offset)', color: '#262626', font: tickFont, padding: { top: 2, bottom: 0 } }
        },
        // empty strip on the right that holds the temperature labels
        labels: {
          type: 'linear', position: 'right', display: true,
          afterFit: s => { s.width = 82; },
          ticks: { display: false }, grid: { display: false }, border: { display: false }
        }
      }
    },
    plugins: [decorPlugin(cfg.names, cfg.labelY, cfg.colors)]
  });
}

makeChart('cooling', {
  series: coolSeries, colors: coolColors, widths: coolWidths,
  names: coolNames, labelY: coolLabelY,
  yTicks: coolTicks, yLabels: coolTickLabels,
  title: 'Cooling', titlePad: { top: 12, bottom: 1 },
  xHeight: 66, xPad: 12, xTitle: null
});

makeChart('heating', {
  series: heatSeries, colors: heatColors, widths: heatWidths,
  names: heatNames, labelY: heatLabelY,
  yTicks: heatTicks, yLabels: heatTickLabels,
  title: 'Heating', titlePad: { top: 37, bottom: 5 },
  xHeight: 73, xPad: 2, xTitle: 'Time (ms)'
});
</script>
</body>
</html>
